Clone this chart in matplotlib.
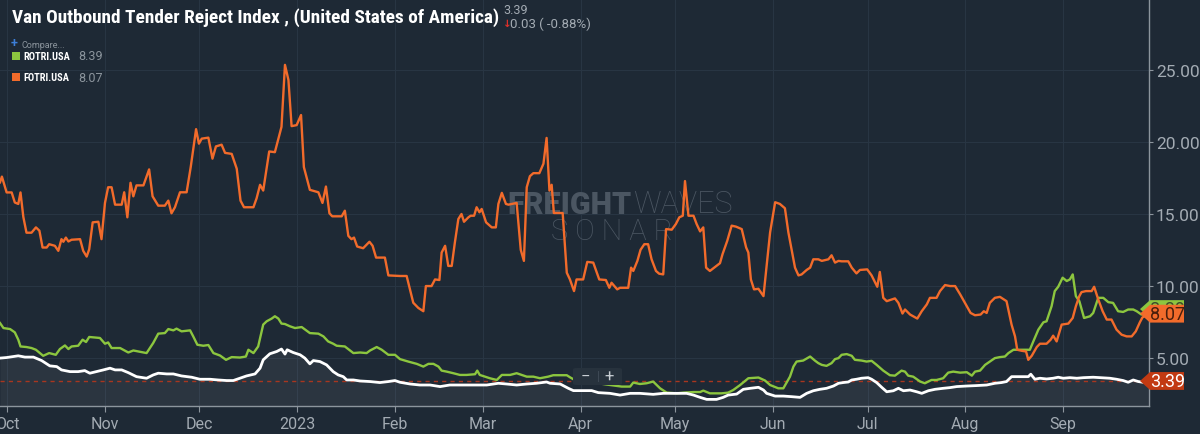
import datetime
import numpy as np
import matplotlib
matplotlib.use('Agg')
from matplotlib import pyplot as plt
import matplotlib.dates as mdates
from matplotlib import font_manager as fm
from matplotlib.patches import Polygon, Rectangle, FancyBboxPatch
from matplotlib.ticker import FuncFormatter, FixedLocator

# Series: x = days since 2022-10-01, y = reject index (%)
orange_days = [-2.2, -1.6, -0.1, 1.5, 2.5, 3.6, 4.3, 5.2, 6.2, 7.8,
               9.2, 10.3, 11.3, 12.6, 13.4, 15.2, 16.3, 17.3, 17.9, 18.7,
               19.5, 20.5, 23.2, 24.2, 25.3, 26.1, 27.2, 29.0, 30.0, 31.1,
               32.1, 33.2, 34.3, 36.4, 37.2, 38.2, 39.2, 40.1, 41.1, 43.3,
               45.1, 46.2, 48.0, 50.1, 51.2, 52.2, 53.3, 54.9, 57.0, 58.3,
               60.0, 60.9, 61.8, 63.9, 65.2, 66.3, 68.1, 69.2, 71.3, 72.9,
               74.1, 75.2, 78.2, 79.2, 80.3, 81.3, 83.2, 85.0, 87.1, 88.2,
               89.3, 90.3, 91.9, 93.3, 94.2, 96.1, 98.8, 100.1, 101.2, 102.3,
               103.2, 106.2, 107.2, 108.3, 109.3, 110.1, 111.1, 113.0, 115.0, 116.0,
               117.1, 119.9, 121.0, 124.7, 126.8, 128.9, 130.5, 132.1, 132.9, 134.7,
               135.8, 137.2, 137.9, 139.0, 140.0, 141.1, 142.1, 143.2, 144.2, 145.0,
               146.4, 147.1, 148.2, 149.0, 149.9, 150.6, 152.0, 153.8, 155.1, 155.9,
               157.0, 158.3, 159.1, 161.7, 163.0, 164.0, 164.9, 165.9, 167.0, 168.9,
               170.2, 171.2, 172.1, 172.8, 173.5, 176.3, 177.6, 178.6, 179.9, 180.7,
               182.8, 184.1, 186.0, 187.9, 190.0, 191.1, 191.8, 193.6, 194.5, 197.1,
               198.0, 198.7, 200.0, 201.0, 202.2, 203.4, 204.5, 205.9, 206.9, 208.2,
               209.1, 210.9, 212.2, 213.3, 214.4, 215.1, 216.2, 217.8, 218.8, 219.9,
               220.9, 221.8, 223.0, 225.1, 226.2, 227.0, 228.5, 229.9, 231.3, 233.1,
               234.5, 235.2, 236.0, 237.0, 238.4, 240.0, 242.1, 243.7, 245.2, 246.8,
               247.9, 248.9, 250.0, 251.1, 252.1, 253.7, 254.8, 255.8, 257.4, 258.5,
               260.6, 261.6, 262.7, 263.8, 264.8, 266.9, 268.0, 269.5, 270.6, 272.9,
               274.3, 276.1, 276.9, 278.0, 279.1, 281.7, 282.8, 284.1, 284.9, 286.5,
               288.8, 290.2, 291.8, 292.8, 294.9, 296.0, 297.6, 299.2, 300.8, 302.4,
               303.9, 305.7, 307.1, 308.9, 309.9, 310.8, 311.8, 313.4, 315.0, 317.1,
               318.7, 319.8, 320.5, 321.9, 323.3, 324.0, 325.1, 326.7, 327.7, 329.8,
               331.1, 331.9, 333.0, 334.6, 336.7, 338.1, 339.1, 340.2, 340.9, 342.3,
               344.1, 344.9, 346.2, 347.6, 348.9, 350.4, 352.0, 353.6, 355.2, 356.8,
               358.1, 359.4, 360.2, 362.0]
orange_vals = [17.2, 17.6, 16.5, 16.5, 15.8, 15.7, 16.5, 14.8, 13.7, 13.7,
               14.07, 13.84, 12.67, 12.67, 12.9, 12.79, 12.44, 13.25, 13.07, 13.36,
               13.09, 13.21, 13.25, 12.44, 12.04, 12.55, 14.42, 14.46, 13.25, 15.77,
               16.86, 16.86, 15.65, 15.65, 16.51, 14.77, 17.17, 16.23, 16.99, 16.99,
               18.10, 16.23, 15.58, 15.58, 15.93, 15.05, 15.47, 16.51, 16.51, 18.26,
               20.9, 19.89, 20.24, 20.31, 18.85, 19.70, 19.82, 19.25, 19.18, 18.15,
               15.93, 15.47, 15.47, 16.09, 17.03, 16.63, 19.35, 19.30, 21.06, 25.37,
               24.32, 21.11, 21.18, 21.88, 18.26, 16.68, 16.51, 15.77, 16.91, 15.05,
               14.84, 14.84, 15.23, 13.48, 13.25, 13.36, 12.74, 12.62, 13.07, 12.79,
               11.97, 11.97, 10.73, 10.69, 10.69, 8.83, 8.47, 8.24, 9.99, 9.99,
               10.45, 10.41, 12.32, 12.79, 11.39, 11.39, 13.02, 14.65, 15.0, 14.46,
               14.77, 14.88, 14.88, 15.47, 15.12, 15.35, 14.42, 14.07, 14.07, 15.70,
               16.47, 15.70, 15.65, 15.77, 12.51, 11.74, 16.86, 17.63, 17.84, 17.84,
               18.50, 20.29, 16.63, 17.03, 15.07, 15.07, 10.92, 10.45, 9.64, 10.45,
               10.45, 11.67, 11.62, 10.45, 10.41, 9.87, 10.22, 9.76, 9.87, 9.87,
               11.27, 11.04, 11.74, 12.51, 12.90, 12.90, 11.85, 11.04, 10.85, 10.80,
               13.95, 13.91, 14.30, 14.77, 14.88, 17.29, 14.88, 14.88, 14.30, 13.79,
               14.07, 11.27, 11.04, 11.39, 11.58, 12.20, 13.13, 14.19, 14.12, 13.95,
               12.67, 12.32, 10.45, 9.76, 9.80, 9.29, 13.72, 15.82, 15.70, 15.40,
               13.72, 12.55, 11.27, 10.73, 10.80, 11.11, 11.27, 11.85, 11.85, 11.74,
               11.85, 12.13, 11.62, 11.74, 11.71, 11.71, 11.27, 10.87, 11.11, 11.15,
               10.73, 9.94, 10.97, 9.17, 8.94, 9.13, 8.82, 8.08, 8.36, 8.01,
               7.73, 8.24, 8.71, 9.17, 9.17, 9.64, 10.06, 9.99, 9.99, 9.41,
               8.82, 8.12, 7.96, 8.01, 8.24, 8.12, 8.82, 9.17, 9.24, 8.94,
               7.31, 6.49, 5.56, 5.49, 5.44, 4.86, 5.14, 5.75, 5.98, 5.98,
               6.26, 6.54, 6.14, 7.31, 7.38, 7.77, 8.59, 9.29, 9.57, 9.64,
               9.64, 9.94, 9.06, 8.24, 7.66, 7.66, 6.96, 6.61, 6.49, 6.49,
               6.84, 7.47, 7.80, 8.07]

green_days = [-2.2, -1.1, 1.0, 2.5, 3.6, 4.3, 6.2, 7.8, 9.2, 11.5,
              13.4, 15.5, 16.8, 18.4, 19.5, 20.5, 22.6, 24.0, 25.1, 26.1,
              29.5, 31.1, 32.1, 33.2, 35.9, 38.5, 40.1, 41.7, 44.3, 46.4,
              48.0, 50.1, 51.2, 52.8, 53.8, 55.4, 58.1, 59.1, 60.4, 62.3,
              63.9, 65.5, 67.6, 69.5, 71.3, 73.9, 75.8, 76.6, 78.2, 79.7,
              81.3, 82.4, 84.0, 85.0, 86.1, 87.1, 88.2, 89.8, 91.4, 93.5,
              96.1, 98.8, 100.4, 101.9, 103.5, 104.6, 107.2, 109.9, 112.0, 114.1,
              115.2, 117.3, 118.9, 121.0, 123.1, 124.7, 127.3, 130.0, 132.1, 133.7,
              135.3, 136.9, 137.9, 139.5, 141.6, 143.7, 145.8, 148.5, 149.2, 150.0,
              153.2, 155.4, 157.0, 159.6, 161.7, 163.3, 164.9, 167.0, 169.1, 171.7,
              173.3, 177.6, 178.6, 179.7, 184.0, 190.0, 195.0, 197.7, 198.7, 200.8,
              202.9, 205.0, 207.2, 209.3, 212.5, 214.6, 217.8, 219.9, 220.9, 223.0,
              226.7, 228.8, 230.4, 232.6, 235.2, 238.4, 240.5, 242.1, 244.7, 246.3,
              248.4, 249.5, 250.5, 252.6, 254.8, 256.3, 257.4, 258.5, 260.0, 261.6,
              262.7, 263.8, 264.8, 266.4, 268.0, 269.0, 271.1, 272.7, 274.3, 275.9,
              278.0, 280.1, 281.7, 283.8, 284.9, 285.9, 287.5, 289.7, 291.2, 293.3,
              294.9, 297.0, 298.6, 300.2, 302.4, 304.5, 306.1, 307.1, 308.7, 310.3,
              311.8, 313.4, 315.0, 316.6, 317.7, 319.3, 321.9, 324.5, 325.6, 327.2,
              328.8, 329.8, 331.4, 332.4, 333.5, 334.9, 336.2, 337.2, 338.1, 339.1,
              340.2, 341.7, 343.6, 344.6, 346.2, 347.8, 349.4, 350.9, 352.5, 354.1,
              355.7, 357.3, 358.4, 359.9, 362.0]
green_vals = [7.42, 7.07, 7.00, 6.77, 6.26, 5.79, 5.75, 5.68, 5.56, 5.14,
              5.33, 5.21, 5.61, 5.86, 5.61, 5.79, 5.84, 6.26, 6.10, 6.45,
              6.38, 5.98, 6.07, 5.68, 5.68, 5.37, 5.51, 5.44, 5.33, 6.03,
              6.68, 6.72, 7.00, 6.91, 7.03, 6.84, 6.91, 6.49, 5.91, 5.84,
              5.89, 5.33, 5.16, 4.86, 5.05, 5.02, 5.09, 5.56, 5.33, 5.79,
              7.31, 7.54, 7.73, 7.89, 7.73, 7.38, 7.35, 7.19, 7.07, 7.14,
              6.72, 6.68, 6.49, 6.14, 5.98, 5.84, 5.79, 5.33, 5.37, 5.33,
              5.51, 5.75, 5.56, 5.21, 5.21, 4.91, 4.74, 4.58, 4.39, 4.58,
              4.58, 4.39, 4.11, 4.04, 3.93, 3.81, 3.81, 3.86, 4.11, 3.81,
              3.58, 3.46, 3.81, 3.81, 3.93, 3.81, 3.69, 3.69, 3.58, 3.69,
              3.79, 3.79, 3.65, 3.51, 3.35, 3.15, 3.00, 3.00, 3.28, 3.18,
              3.23, 3.35, 2.88, 2.58, 2.53, 2.58, 2.62, 2.62, 2.72, 2.53,
              2.53, 2.58, 2.76, 3.11, 3.58, 3.63, 3.42, 3.11, 2.88, 2.88,
              3.69, 4.39, 4.74, 4.81, 5.09, 4.81, 4.63, 4.51, 4.44, 4.63,
              4.91, 4.98, 5.21, 5.26, 5.14, 4.86, 4.81, 4.74, 4.79, 4.51,
              4.11, 3.79, 3.76, 4.11, 4.04, 3.76, 3.69, 3.35, 3.23, 3.46,
              3.46, 3.58, 3.97, 4.04, 3.97, 4.00, 3.76, 4.04, 4.11, 4.51,
              4.74, 4.98, 5.05, 5.09, 5.33, 5.56, 5.56, 5.56, 6.14, 6.96,
              7.47, 7.54, 8.59, 9.64, 9.94, 10.57, 10.34, 10.45, 10.80, 9.29,
              8.94, 7.77, 7.89, 8.12, 9.17, 9.17, 8.87, 8.82, 8.24, 8.19,
              8.36, 8.36, 8.24, 8.01, 8.39]

white_days = [-2.2, -0.1, 2.0, 3.6, 5.7, 8.4, 11.0, 13.6, 15.8, 17.3,
              20.0, 22.6, 24.7, 26.3, 28.4, 30.6, 32.7, 34.3, 36.4, 38.5,
              41.1, 44.3, 46.4, 48.0, 50.7, 52.8, 55.4, 58.6, 61.2, 64.4,
              67.0, 69.7, 71.8, 73.9, 76.0, 78.7, 80.3, 81.3, 83.4, 85.6,
              87.1, 88.2, 88.9, 90.8, 93.0, 94.5, 96.1, 97.2, 99.3, 101.4,
              103.5, 105.1, 106.7, 107.8, 109.9, 112.0, 115.2, 118.3, 121.0, 123.1,
              124.7, 127.9, 131.0, 134.2, 137.4, 140.5, 143.7, 148.0, 152.2, 155.9,
              158.5, 161.7, 164.9, 168.0, 171.2, 172.3, 175.5, 178.1, 179.7, 182.3,
              185.5, 187.6, 191.3, 194.5, 197.7, 200.8, 205.0, 208.2, 212.5, 215.6,
              217.8, 219.9, 222.0, 225.1, 227.2, 228.8, 231.5, 233.6, 235.8, 238.4,
              240.0, 241.0, 243.7, 246.3, 248.9, 251.6, 253.7, 255.8, 257.9, 260.0,
              262.2, 263.8, 265.3, 266.9, 268.0, 269.5, 271.1, 273.2, 274.3, 275.9,
              277.5, 279.1, 281.2, 282.8, 284.4, 286.5, 288.6, 290.2, 292.3, 294.4,
              297.0, 299.2, 301.3, 304.5, 307.6, 310.8, 313.4, 315.5, 317.1, 318.7,
              321.4, 324.0, 324.8, 326.1, 327.7, 329.8, 331.9, 333.5, 335.1, 337.2,
              339.4, 341.5, 344.6, 346.7, 349.9, 352.0, 354.1, 355.7, 357.3, 358.9,
              360.4, 362.0]
white_vals = [4.98, 5.02, 5.09, 5.14, 5.05, 5.05, 4.81, 4.44, 4.39, 4.16,
              4.04, 4.04, 4.11, 3.93, 4.04, 4.16, 4.28, 4.16, 4.16, 3.97,
              3.69, 3.58, 3.81, 3.93, 3.88, 3.88, 3.74, 3.65, 3.51, 3.51,
              3.46, 3.42, 3.42, 3.58, 3.74, 3.88, 4.28, 4.86, 5.28, 5.44,
              5.61, 5.26, 5.56, 5.37, 5.21, 4.98, 4.58, 4.81, 4.74, 4.51,
              4.04, 3.81, 3.69, 3.46, 3.46, 3.39, 3.35, 3.28, 3.35, 3.42,
              3.30, 3.18, 3.11, 3.11, 3.00, 3.11, 3.11, 3.11, 3.11, 3.23,
              3.18, 3.11, 3.18, 3.23, 3.32, 3.23, 3.18, 2.88, 2.72, 2.72,
              2.72, 2.58, 2.53, 2.41, 2.53, 2.53, 2.46, 2.53, 2.53, 2.53,
              2.41, 2.25, 2.11, 2.11, 2.25, 2.41, 2.48, 2.81, 2.88, 2.95,
              2.76, 2.53, 2.34, 2.34, 2.30, 2.25, 2.53, 2.71, 2.81, 2.88,
              3.04, 3.23, 3.28, 3.32, 3.46, 3.51, 3.58, 3.62, 3.51, 3.28,
              2.95, 2.64, 2.71, 2.88, 2.71, 2.76, 2.64, 2.53, 2.71, 2.81,
              2.88, 2.93, 3.00, 3.04, 3.07, 3.11, 3.23, 3.28, 3.35, 3.69,
              3.69, 3.69, 3.86, 3.51, 3.58, 3.53, 3.58, 3.65, 3.58, 3.62,
              3.58, 3.62, 3.65, 3.62, 3.58, 3.51, 3.42, 3.30, 3.46, 3.35,
              3.30, 3.39]

title = 'Van Outbound Tender Reject Index , (United States of America)'
change_text = '0.03 ( -0.88%)'
series_names = ['ROTRI.USA', 'FOTRI.USA']
y_ticks = [5, 10, 15, 20, 25]

BG = '#1e2935'
ORANGE = '#f26b2b'
GREEN = '#8cc63f'
GRAY = '#a3abb3'
AXIS = '#8c959d'

names = {f.name for f in fm.fontManager.ttflist}
if 'Roboto Condensed' in names:
    title_family = 'Roboto Condensed'
elif 'Liberation Sans Narrow' in names:
    title_family = 'Liberation Sans Narrow'
else:
    title_family = 'Roboto'
plt.rcParams['font.family'] = ['Roboto', 'DejaVu Sans']

W, H = 1200, 435
def fx(px):
    return px / W
def fy(py):
    return 1 - py / H

start = mdates.date2num(datetime.datetime(2022, 10, 1))
xo = start + np.array(orange_days)
xg = start + np.array(green_days)
xw = start + np.array(white_days)

fig = plt.figure(figsize=(12, 4.35), dpi=100, facecolor=BG)
ax = fig.add_axes([0, fy(407), fx(1149), fy(0) - fy(407)])
ax.set_facecolor(BG)

ax.set_xlim(start - 2.2, start + 362.3)
ax.set_ylim(1.65, 29.95)

# grid + axes styling
ax.grid(True, color='#283543', lw=0.8, zorder=0)
ax.set_axisbelow(True)
for s in ['left', 'top']:
    ax.spines[s].set_visible(False)
for s in ['right', 'bottom']:
    ax.spines[s].set_color(AXIS)
    ax.spines[s].set_linewidth(1.0)

ax.xaxis.set_major_locator(mdates.MonthLocator())
def month_fmt(x, pos):
    d = mdates.num2date(x)
    return str(d.year) if d.month == 1 else d.strftime('%b')
ax.xaxis.set_major_formatter(FuncFormatter(month_fmt))
ax.yaxis.tick_right()
ax.yaxis.set_major_locator(FixedLocator(y_ticks))
ax.yaxis.set_major_formatter(FuncFormatter(lambda v, p: f'{v:.2f}'))
ax.tick_params(axis='x', colors=AXIS, labelcolor=GRAY, labelsize=11.5, length=4, pad=3)
ax.tick_params(axis='y', colors=AXIS, labelcolor=GRAY, labelsize=12.5, length=3, pad=2)

# watermark
wm = '#4b5662'
ax.text(fx(632), fy(205), 'FREIGHT', transform=fig.transFigure, ha='right', va='center',
        fontsize=22, weight='heavy', color=wm, zorder=1)
ax.text(fx(633), fy(205), 'WAVES', transform=fig.transFigure, ha='left', va='center',
        fontsize=22, weight='light', color=wm, zorder=1)
ax.text(fx(612), fy(232), 'S O N A R', transform=fig.transFigure, ha='center', va='center',
        fontsize=21, weight='light', color=wm, zorder=1)

# area under the main series + last value line
ax.fill_between(xw, white_vals, 0, color='white', alpha=0.06, lw=0, zorder=1)
ax.axhline(white_vals[-1], color='#a8361f', lw=1, ls=(0, (3, 3)), zorder=2)

ax.plot(xg, green_vals, color=GREEN, lw=1.7, zorder=3, solid_joinstyle='round')
ax.plot(xo, orange_vals, color=ORANGE, lw=1.7, zorder=4, solid_joinstyle='round')
ax.plot(xw, white_vals, color='white', lw=2.0, zorder=5, solid_joinstyle='round')

# last value tags on the right axis
ytr = ax.get_yaxis_transform()
def tag(v, fc, tc, z):
    tip, body, end, hh = 1140 / 1149, 1150 / 1149, 1184 / 1149, 0.62
    poly = Polygon([(tip, v), (body, v + hh), (end, v + hh), (end, v - hh), (body, v - hh)],
                   closed=True, transform=ytr, fc=fc, ec='none', clip_on=False, zorder=z)
    ax.add_patch(poly)
    ax.text((body + end) / 2 + 0.0005, v, f'{v:.2f}', transform=ytr, ha='center', va='center',
            fontsize=13, color=tc, clip_on=False, zorder=z + 0.5)

tag(green_vals[-1], GREEN, '#3b4a2a', 8)
tag(orange_vals[-1], ORANGE, '#4a1f0c', 10)
tag(white_vals[-1], '#c23a12', 'white', 12)

# zoom buttons
fig.add_artist(FancyBboxPatch((fx(573), fy(386)), fx(49), 17 / H,
                              boxstyle='round,pad=0,rounding_size=0.003',
                              transform=fig.transFigure, fc='#27323d', ec='none', zorder=5))
fig.add_artist(Rectangle((fx(597.5), fy(383)), fx(1), 11 / H, transform=fig.transFigure,
                         fc='#3d4854', ec='none', zorder=6))
fig.text(fx(585), fy(377.5), '\u2212', ha='center', va='center', fontsize=12, color='#c8ced4', zorder=7)
fig.text(fx(609), fy(377.5), '+', ha='center', va='center', fontsize=12, color='#c8ced4', zorder=7)

# title block
fig.text(fx(12), fy(18), title, family=[title_family, 'DejaVu Sans'], fontsize=13.9,
         weight='bold', color='white', va='center', ha='left')
fig.text(fx(503), fy(11), f'{white_vals[-1]:.2f}', fontsize=9, color=GRAY, va='center', ha='left')
fig.text(fx(503), fy(24), '\u2193', fontsize=7.5, color='#e0302a', weight='bold', va='center', ha='left')
fig.text(fx(510), fy(24), change_text, fontsize=9.5, color=GRAY, va='center', ha='left')

# legend
fig.text(fx(11), fy(43.5), '+', fontsize=9, color='#3d7fd9', weight='bold', va='center', ha='left')
fig.text(fx(21), fy(45), 'Compare...', fontsize=6.5, color='#8c959d', va='center', ha='left')
for i, (name, col, val) in enumerate([(series_names[0], GREEN, green_vals[-1]),
                                      (series_names[1], ORANGE, orange_vals[-1])]):
    yc = 57 + 21 * i
    fig.add_artist(Rectangle((fx(12), fy(yc + 4)), fx(8), 8 / H, transform=fig.transFigure,
                             fc=col, ec='none'))
    fig.text(fx(23), fy(yc), name, family=[title_family, 'DejaVu Sans'], fontsize=7.5,
             weight='bold', color='white', va='center', ha='left')
    fig.text(fx(78), fy(yc), f'{val:.2f}', fontsize=9, color='#8c959d', va='center', ha='left')

fig.savefig('out.png', dpi=100, facecolor=BG)
